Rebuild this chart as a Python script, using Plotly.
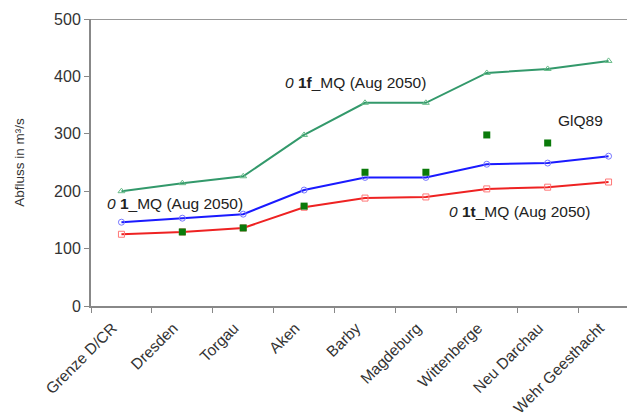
import plotly.graph_objects as go

stations = ["Grenze D/CR", "Dresden", "Torgau", "Aken", "Barby", "Magdeburg",
            "Wittenberge", "Neu Darchau", "Wehr Geesthacht"]
mq_1f = [200, 214, 226, 298, 354, 354, 406, 413, 427]
mq_1 = [146, 153, 160, 202, 224, 224, 247, 249, 261]
mq_1t = [125, 129, 136, 172, 188, 190, 204, 207, 216]
glq89 = [None, 129, 136, 174, 233, 233, 298, 284, None]

font_fam = "Liberation Sans, Arial, sans-serif"

fig = go.Figure()
fig.add_trace(go.Scatter(x=stations, y=mq_1f, mode="lines+markers",
                         line=dict(color="#33996b", width=2),
                         marker=dict(symbol="triangle-up-open", size=6, color="#66bb88")))
fig.add_trace(go.Scatter(x=stations, y=mq_1, mode="lines+markers",
                         line=dict(color="#1a1aff", width=2),
                         marker=dict(symbol="circle-open", size=6, color="#7777ff")))
fig.add_trace(go.Scatter(x=stations, y=mq_1t, mode="lines+markers",
                         line=dict(color="#ee2222", width=2),
                         marker=dict(symbol="square-open", size=6, color="#ff7777")))
fig.add_trace(go.Scatter(x=stations, y=glq89, mode="markers",
                         marker=dict(symbol="square", size=7, color="#0a7a0a")))

fig.add_shape(type="line", xref="paper", yref="y", x0=0, x1=1, y0=500, y1=500,
              line=dict(color="#999999", width=2))

ann_font = dict(family=font_fam, size=15.5, color="#222222")
annots = [
    (0.88, 179, "<i>0</i> <b>1</b>_MQ (Aug 2050)"),
    (3.84, 390, "<i>0</i> <b>1f</b>_MQ (Aug 2050)"),
    (7.54, 324, "GlQ89"),
    (6.54, 165, "<i>0</i> <b>1t</b>_MQ (Aug 2050)"),
]
for x, y, t in annots:
    fig.add_annotation(x=x, y=y, xref="x", yref="y", text=t, showarrow=False,
                       font=ann_font)

fig.update_layout(
    width=635, height=419,
    margin=dict(l=83, r=4, t=11, b=121, autoexpand=False),
    paper_bgcolor="white", plot_bgcolor="white",
    showlegend=False,
    font=dict(family=font_fam, size=15, color="#333333"),
)
fig.update_xaxes(type="category", range=[-0.5, 8.5], tickson="boundaries",
                 ticks="outside", ticklen=5, tickcolor="#888888",
                 showline=True, linecolor="#888888", linewidth=2,
                 showgrid=False, tickangle=-45, automargin=False,
                 ticklabelshift=-9, ticklabelstandoff=5,
                 tickfont=dict(size=15.5, color="#333333"))
fig.update_yaxes(range=[0, 500], dtick=100, ticks="outside", ticklen=5,
                 tickcolor="#888888", showline=True, linecolor="#888888",
                 linewidth=2, showgrid=False, zeroline=False, automargin=False,
                 tickfont=dict(size=16, color="#333333"),
                 title=dict(text="Abfluss in m³/s", font=dict(size=13.5, color="#333333"),
                            standoff=26))

fig.write_html("out.html")
